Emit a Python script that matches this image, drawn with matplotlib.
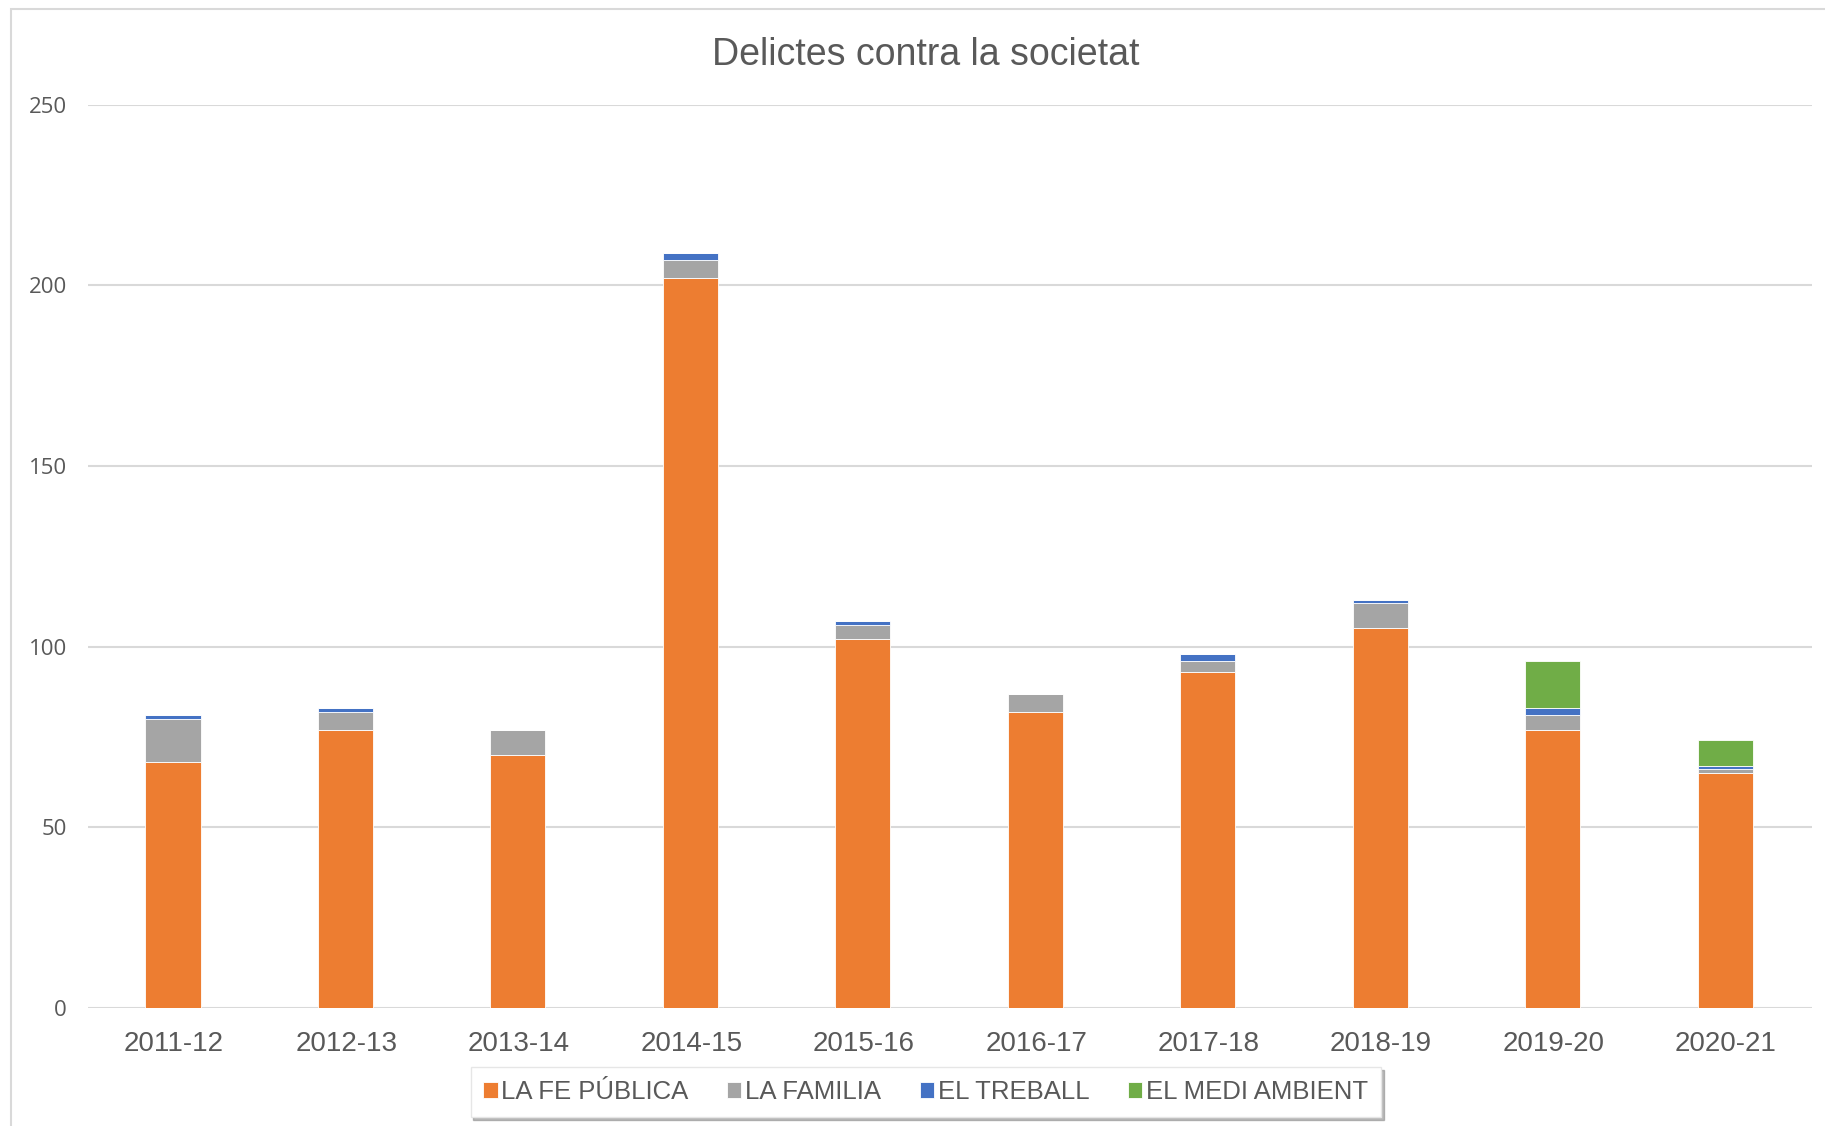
# Delictes contra la societat - stacked bars
import numpy as np
import matplotlib.pyplot as plt
from matplotlib.patches import Rectangle

years = ["2011-12", "2012-13", "2013-14", "2014-15", "2015-16",
         "2016-17", "2017-18", "2018-19", "2019-20", "2020-21"]
fePublica = [68, 77, 70, 202, 102, 82, 93, 105, 77, 65]
familia = [12, 5, 7, 5, 4, 5, 3, 7, 4, 1]
treball = [1, 1, 0, 2, 1, 0, 2, 1, 2, 1]
mediAmbient = [0, 0, 0, 0, 0, 0, 0, 0, 13, 7]

series = [("LA FE PÚBLICA", fePublica, "#ED7D31"),
          ("LA FAMILIA", familia, "#A5A5A5"),
          ("EL TREBALL", treball, "#4472C4"),
          ("EL MEDI AMBIENT", mediAmbient, "#70AD47")]

fig = plt.figure(figsize=(18.25, 11.26), dpi=100)
ax = fig.add_axes([0.048, 0.105, 0.945, 0.802])

# outer chart border
fig.patches.append(Rectangle((0.006, -0.01), 0.999, 1.002, transform=fig.transFigure,
                             fill=False, edgecolor="#d9d9d9", lw=1.5))

x = np.arange(len(years))
bottom = np.zeros(len(years))
for name, vals, col in series:
    vals = np.array(vals, dtype=float)
    ax.bar(x - 0.005, vals, 0.32, bottom=bottom, color=col, label=name,
           edgecolor="white", linewidth=0.6, zorder=3)
    bottom += vals

ax.set_xlim(-0.5, len(years) - 0.5)
ax.set_ylim(0, 250)
ax.set_yticks(np.arange(0, 251, 50))
ax.yaxis.grid(True, color="#d9d9d9", lw=1.5, zorder=0)
for s in ax.spines.values():
    s.set_visible(False)
ax.tick_params(axis="both", length=0)
ax.tick_params(axis="y", pad=15, labelsize=16, labelcolor="#595959")
ax.tick_params(axis="x", pad=17, labelsize=20, labelcolor="#595959")
for t in ax.get_yticklabels():
    t.set_fontfamily("Open Sans")
ax.set_xticks(x)
ax.set_xticklabels(years, family="Liberation Sans")

fig.text(0.5075, 0.951, "Delictes contra la societat", ha="center", va="center",
         fontsize=27, color="#595959", family="Liberation Sans")

leg = ax.legend(loc="center", bbox_to_anchor=(0.486, -0.0935), ncol=4, frameon=True,
                fancybox=False, shadow={"color": "0.55", "alpha": 0.6},
                prop={"family": "Liberation Sans", "size": 18.5},
                handlelength=0.55, handleheight=0.55, handletextpad=0.15,
                columnspacing=1.5, borderpad=0.5, borderaxespad=0)
leg.get_frame().set_edgecolor("#e6e6e6")
for t in leg.get_texts():
    t.set_color("#595959")

fig.savefig("out.png", dpi=100)
